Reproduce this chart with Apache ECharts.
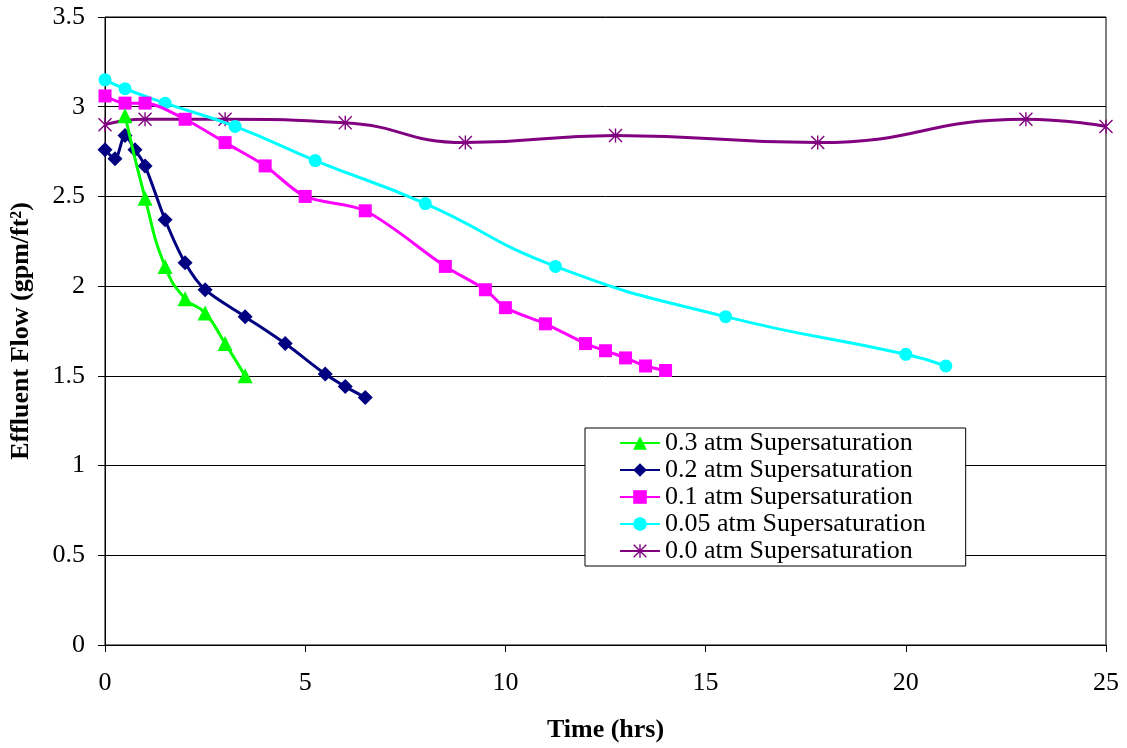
<!DOCTYPE html>
<html>
<head>
<meta charset="utf-8">
<script src="https://cdn.jsdelivr.net/npm/echarts@6/dist/echarts.min.js"></script>
<style>
  html, body { margin: 0; padding: 0; background: #fff; }
  #chart { width: 1127px; height: 748px; }
</style>
</head>
<body>
<div id="chart"></div>
<script>
var dom = document.getElementById("chart");
var myChart = echarts.init(dom);

// data: [time (hrs), effluent flow (gpm/ft2)]
var names = [
    '0.3 atm Supersaturation',
    '0.2 atm Supersaturation',
    '0.1 atm Supersaturation',
    '0.05 atm Supersaturation',
    '0.0 atm Supersaturation'
];
var colors = ['#00ff00', '#000080', '#ff00ff', '#00ffff', '#800080'];

var sat03 = [[0.5, 2.95], [1.0, 2.49], [1.5, 2.11], [2.0, 1.93], [2.5, 1.85], [3.0, 1.68], [3.5, 1.50]];
var sat02 = [[0, 2.76], [0.25, 2.71], [0.5, 2.84], [0.75, 2.76], [1.0, 2.67], [1.5, 2.37], [2.0, 2.13],
             [2.5, 1.98], [3.5, 1.83], [4.5, 1.68], [5.5, 1.51], [6.0, 1.44], [6.5, 1.38]];
var sat01 = [[0, 3.06], [0.5, 3.02], [1.0, 3.02], [2.0, 2.93], [3.0, 2.80], [4.0, 2.67], [5.0, 2.50],
             [6.5, 2.42], [8.5, 2.11], [9.5, 1.98], [10.0, 1.88], [11.0, 1.79], [12.0, 1.68],
             [12.5, 1.64], [13.0, 1.60], [13.5, 1.555], [14.0, 1.53]];
var sat005 = [[0, 3.15], [0.5, 3.10], [1.5, 3.02], [3.25, 2.89], [5.25, 2.70], [8.0, 2.46],
              [11.25, 2.11], [15.5, 1.83], [20.0, 1.62], [21.0, 1.555]];
var sat00 = [[0, 2.90], [1.0, 2.93], [3.0, 2.93], [6.0, 2.91], [9.0, 2.80], [12.75, 2.84],
             [17.8, 2.80], [23.0, 2.93], [25.0, 2.89]];

var xTicks = [0, 5, 10, 15, 20, 25];

var star = 'path://M9,0L11,0L11,20L9,20Z M0,1.4L1.4,0L20,18.6L18.6,20Z M18.6,0L20,1.4L1.4,20L0,18.6Z';
var symbols = ['triangle', 'diamond', 'rect', 'circle', star];
var sizes = [15, 15, 13, 13, 14];
var smooths = [0.5, 0.3, 0.3, 0.5, 0.5];
var allData = [sat03, sat02, sat01, sat005, sat00];

var font = '"Liberation Serif", "Times New Roman", serif';

var series = allData.map(function (d, i) {
    return {
        name: names[i],
        type: 'line',
        data: d,
        smooth: smooths[i],
        symbol: symbols[i],
        symbolSize: sizes[i],
        showAllSymbol: true,
        lineStyle: { color: colors[i], width: 3 },
        itemStyle: { color: colors[i], opacity: 1 },
        z: 2 + (4 - i)
    };
});

option = {
    backgroundColor: '#ffffff',
    animation: false,
    textStyle: { fontFamily: font },
    grid: {
        left: 104,
        right: 21,
        top: 17,
        bottom: 103,
        show: true,
        borderColor: '#000',
        borderWidth: 1,
        containLabel: false
    },
    legend: {
        orient: 'vertical',
        left: 585,
        top: 428,
        padding: [2, 40, 2, 34],
        itemGap: 1,
        itemWidth: 40,
        itemHeight: 17,
        borderColor: '#000',
        borderWidth: 1,
        backgroundColor: '#fff',
        textStyle: { fontFamily: font, fontSize: 26, lineHeight: 26, color: '#000' },
        data: names
    },
    xAxis: {
        type: 'value',
        min: 0,
        max: 25,
        interval: 5,
        name: 'Time (hrs)',
        nameLocation: 'middle',
        nameGap: 72,
        nameTextStyle: { fontFamily: font, fontSize: 26, fontWeight: 'bold', color: '#000' },
        axisLine: { lineStyle: { color: '#000', width: 1 } },
        axisTick: { show: true, inside: false, length: 7, lineStyle: { color: '#000' } },
        axisLabel: {
            margin: 25, fontSize: 26, color: '#000', fontFamily: font,
            formatter: function (v) { return xTicks.indexOf(v) >= 0 ? String(v) : ''; }
        },
        splitLine: { show: false }
    },
    yAxis: {
        type: 'value',
        min: 0,
        max: 3.5,
        interval: 0.5,
        name: 'Effluent Flow (gpm/ft²)',
        nameLocation: 'middle',
        nameGap: 71,
        nameTextStyle: { fontFamily: font, fontSize: 26, fontWeight: 'bold', color: '#000' },
        axisLine: { show: true, lineStyle: { color: '#000', width: 1 } },
        axisTick: { show: true, inside: false, length: 7, lineStyle: { color: '#000' } },
        axisLabel: { margin: 20, fontSize: 26, color: '#000', fontFamily: font },
        splitLine: { show: true, lineStyle: { color: '#000', width: 1 } }
    },
    series: series
};

if (option && typeof option === "object") {
    myChart.setOption(option, true);
}
</script>
</body>
</html>
